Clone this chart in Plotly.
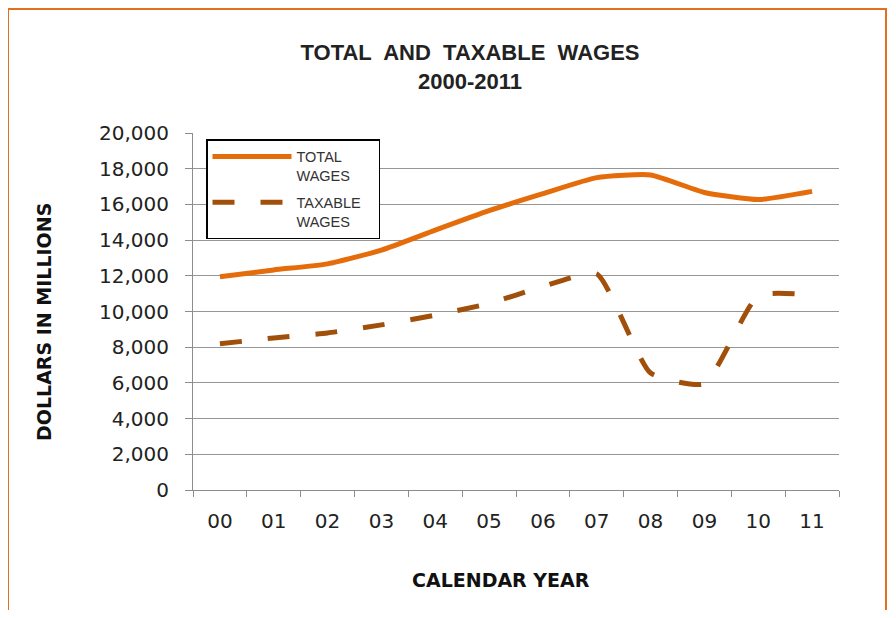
import plotly.graph_objects as go

years = ["00", "01", "02", "03", "04", "05", "06", "07", "08", "09", "10", "11"]
total_wages = [11950, 12330, 12670, 13440, 14560, 15650, 16600, 17500, 17650, 16670, 16270, 16730]
taxable_wages = [8190, 8520, 8800, 9250, 9800, 10450, 11400, 12100, 6550, 5950, 10880, 10920]
y_ticks = [0, 2000, 4000, 6000, 8000, 10000, 12000, 14000, 16000, 18000, 20000]

W, H = 880, 602
D = 8  # page body offset
# plot area in screen pixels: x 193..839, y 133..490
L, T = 193 - D, 133 - D
R = W - (839 - D)
B = H - (490 - D)
pw, ph = W - L - R, H - T - B

def px(x):
    return (x - D - L) / pw

def py(y):
    return (H - B - (y - D)) / ph

fig = go.Figure()
fig.add_trace(go.Scatter(
    x=years, y=total_wages, mode="lines", name="TOTAL<br>WAGES",
    line=dict(color="#E46C0A", width=5, shape="spline", smoothing=0.5),
    legendgroup="a",
))
fig.add_trace(go.Scatter(
    x=years, y=taxable_wages, mode="lines", name="TAXABLE\u00a0\u00a0\u00a0<br>WAGES",
    line=dict(color="#A0500A", width=5, dash="22px,26px", shape="spline", smoothing=0.5),
    legendgroup="b",
))

fig.update_layout(
    width=W, height=H,
    margin=dict(l=L, r=R, t=T, b=B),
    paper_bgcolor="white", plot_bgcolor="white",
    font=dict(family="DejaVu Sans", color="#222222"),
    title=dict(
        text="TOTAL\u00a0 AND\u00a0 TAXABLE\u00a0 WAGES<br>2000-2011",
        x=(470 - D) / W, xanchor="center", xref="container",
        y=1 - 52 / H, yanchor="top", yref="container",
        font=dict(family="Liberation Sans, Arial", size=22, color="#222222", weight="bold"),
    ),
    showlegend=True,
    legend=dict(
        x=px(206), y=py(139), xanchor="left", yanchor="top",
        bordercolor="#000000", borderwidth=1.5, bgcolor="white",
        font=dict(family="Liberation Sans, Arial", size=14.5, color="#333333"),
        itemwidth=79, tracegroupgap=5, valign="top",
    ),
    xaxis=dict(
        type="category", range=[-0.5, 11.5],
        showline=True, linecolor="#8c8c8c", linewidth=1,
        ticks="outside", tickson="boundaries", ticklen=6, tickcolor="#8c8c8c",
        showgrid=False, zeroline=False,
        tickfont=dict(family="DejaVu Sans", size=20, color="#222222"),
        ticklabelstandoff=13,
    ),
    yaxis=dict(
        range=[0, 20000], tickvals=y_ticks, tickformat=",",
        showline=True, linecolor="#8c8c8c", linewidth=1,
        ticks="outside", ticklen=7, tickcolor="#8c8c8c",
        showgrid=True, gridcolor="#969696", gridwidth=1,
        zeroline=False,
        tickfont=dict(family="DejaVu Sans", size=20, color="#222222"),
        ticklabelstandoff=12,
    ),
    annotations=[
        dict(text="CALENDAR YEAR", xref="paper", yref="paper",
             x=px(501), y=py(580), xanchor="center", yanchor="middle", showarrow=False,
             font=dict(family="DejaVu Sans", size=19, color="#111111", weight="bold")),
        dict(text="DOLLARS IN MILLIONS", xref="paper", yref="paper", textangle=-90,
             x=px(44), y=py(322), xanchor="center", yanchor="middle", showarrow=False,
             font=dict(family="DejaVu Sans", size=19, color="#111111", weight="bold")),
    ],
    shapes=[
        dict(type="rect", xref="paper", yref="paper",
             x0=px(8), x1=px(886), y0=py(640), y1=py(9),
             line=dict(color="#E07020", width=2), fillcolor="rgba(0,0,0,0)", layer="below"),
    ],
)

fig.write_html("out.html")
